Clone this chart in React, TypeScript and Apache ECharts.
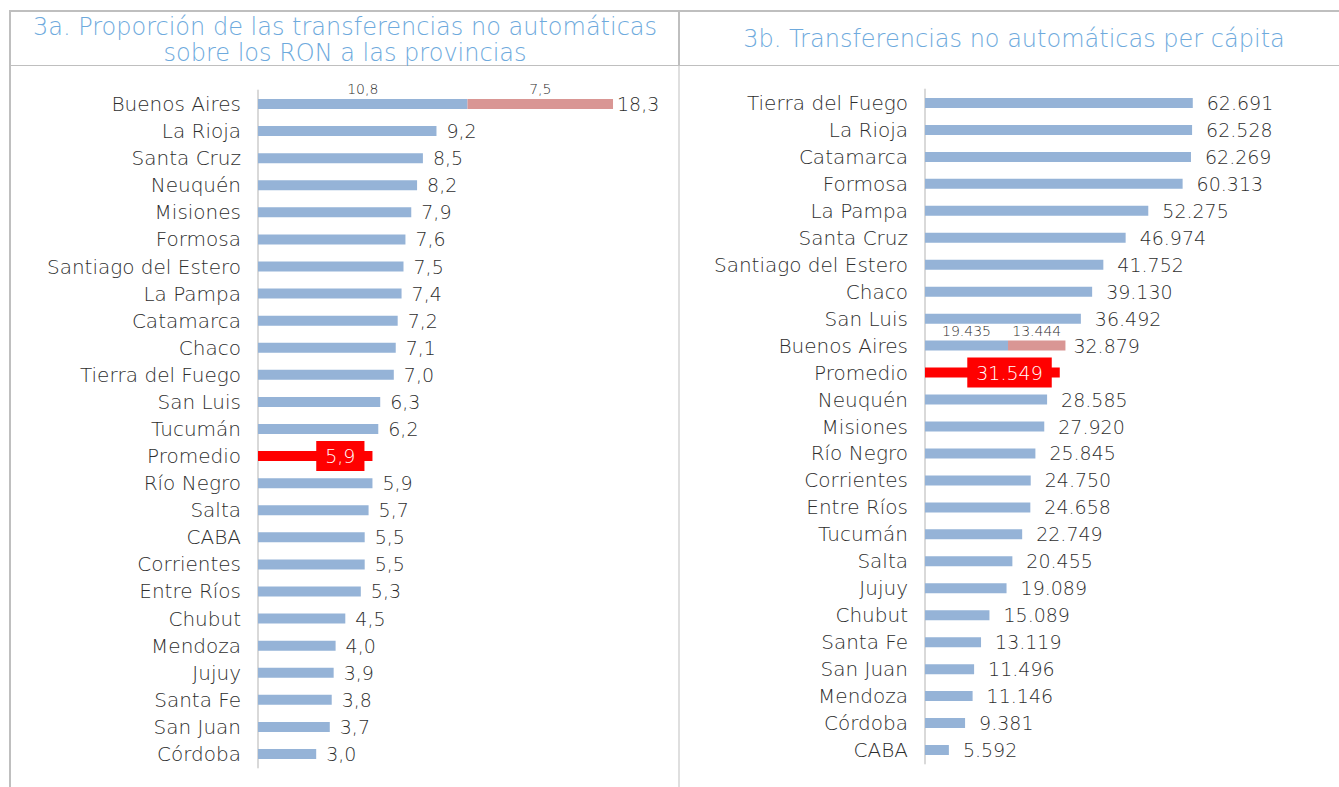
import React, { useEffect, useRef } from "react";
import * as echarts from "echarts";

const leftCategories = [
  "Buenos Aires", "La Rioja", "Santa Cruz", "Neuquén", "Misiones", "Formosa",
  "Santiago del Estero", "La Pampa", "Catamarca", "Chaco", "Tierra del Fuego",
  "San Luis", "Tucumán", "Promedio", "Río Negro", "Salta", "CABA", "Corrientes",
  "Entre Ríos", "Chubut", "Mendoza", "Jujuy", "Santa Fe", "San Juan", "Córdoba",
];
const leftValues = [
  18.3, 9.2, 8.5, 8.2, 7.9, 7.6, 7.5, 7.4, 7.2, 7.1, 7.0, 6.3, 6.2, 5.9, 5.9,
  5.7, 5.5, 5.5, 5.3, 4.5, 4.0, 3.9, 3.8, 3.7, 3.0,
];
const leftBuenosAiresSplit = [10.8, 7.5];

const rightCategories = [
  "Tierra del Fuego", "La Rioja", "Catamarca", "Formosa", "La Pampa", "Santa Cruz",
  "Santiago del Estero", "Chaco", "San Luis", "Buenos Aires", "Promedio", "Neuquén",
  "Misiones", "Río Negro", "Corrientes", "Entre Ríos", "Tucumán", "Salta", "Jujuy",
  "Chubut", "Santa Fe", "San Juan", "Mendoza", "Córdoba", "CABA",
];
const rightValues = [
  62691, 62528, 62269, 60313, 52275, 46974, 41752, 39130, 36492, 32879, 31549,
  28585, 27920, 25845, 24750, 24658, 22749, 20455, 19089, 15089, 13119, 11496,
  11146, 9381, 5592,
];
const rightBuenosAiresSplit = [19435, 13444];

const leftTitle = ["3a. Proporción de las transferencias no automáticas", "sobre los RON a las provincias"];
const rightTitle = "3b. Transferencias no automáticas per cápita";

const BLUE = "#95b3d7";
const PINK = "#d99694";
const RED = "#ff0000";
const TEXT = "#2e2e2e";
const TITLE = "#6eaadd";
const BORDER = "#bfbfbf";
const FONT = "'DejaVu Sans', sans-serif";
const WEIGHT = 300;

const fmtComma = (v: number) => v.toFixed(1).replace(".", ",");
const fmtThousands = (v: number) =>
  String(Math.round(v)).replace(/\B(?=(\d{3})+(?!\d))/g, ".");

function buildBars(
  cats: string[],
  vals: number[],
  split: number[],
  fmt: (v: number) => string,
  xIdx: number,
  labelDist: number
) {
  const baIdx = cats.indexOf("Buenos Aires");
  const promIdx = cats.indexOf("Promedio");
  const smallLabel = (v: number) => ({
    show: true,
    position: "top",
    distance: 3,
    fontSize: 14,
    color: TEXT,
    fontFamily: FONT,
    fontWeight: WEIGHT,
    formatter: () => fmt(v),
  });
  const baseData = vals.map((v, i) => {
    if (i === baIdx) {
      return { value: split[0], label: smallLabel(split[0]) };
    }
    if (i === promIdx) {
      return {
        value: v,
        itemStyle: { color: RED },
        label: {
          show: true,
          position: "insideRight",
          distance: 8,
          backgroundColor: RED,
          color: "#ffffff",
          fontSize: 19,
          fontWeight: WEIGHT,
          padding: [6, 9, 5, 9],
          fontFamily: FONT,
          formatter: () => fmt(v),
        },
      };
    }
    return v;
  });
  const extraData = vals.map((_, i) =>
    i === baIdx ? { value: split[1], label: smallLabel(split[1]) } : "-"
  );
  return [
    {
      type: "bar",
      xAxisIndex: xIdx,
      yAxisIndex: xIdx,
      stack: "s" + xIdx,
      barWidth: 10,
      itemStyle: { color: BLUE },
      data: baseData,
      label: {
        show: true,
        position: "right",
        distance: labelDist,
        fontSize: 19,
        color: TEXT,
        fontFamily: FONT,
        fontWeight: WEIGHT,
        formatter: (p: any) => fmt(p.value),
      },
    },
    {
      type: "bar",
      xAxisIndex: xIdx,
      yAxisIndex: xIdx,
      stack: "s" + xIdx,
      barWidth: 10,
      itemStyle: { color: PINK },
      data: extraData,
    },
    {
      type: "scatter",
      xAxisIndex: xIdx,
      yAxisIndex: xIdx,
      symbolSize: 0,
      itemStyle: { color: TEXT, opacity: 1 },
      data: [[vals[baIdx], cats[baIdx]]],
      label: {
        show: true,
        position: "right",
        distance: labelDist - 6,
        fontSize: 19,
        color: TEXT,
        fontFamily: FONT,
        fontWeight: WEIGHT,
        formatter: () => fmt(vals[baIdx]),
      },
    },
  ];
}

export default function App() {
  const ref = useRef<HTMLDivElement>(null);
  useEffect(() => {
    if (!ref.current) return;
    const chart = echarts.init(ref.current, null, { renderer: "svg" });
    const catAxis = (cats: string[], idx: number) => ({
      type: "category",
      gridIndex: idx,
      data: cats,
      inverse: true,
      axisTick: { show: false },
      axisLine: { show: true, lineStyle: { color: "#d9d9d9", width: 2 } },
      axisLabel: {
        interval: 0,
        fontSize: 20,
        color: TEXT,
        margin: 17,
        fontFamily: FONT,
        fontWeight: WEIGHT,
      },
    });
    const valAxis = (idx: number, max: number) => ({
      type: "value",
      gridIndex: idx,
      min: 0,
      max,
      show: false,
      splitLine: { show: false },
    });
    const line = (x1: number, y1: number, x2: number, y2: number, w: number) => ({
      type: "line",
      shape: { x1, y1, x2, y2 },
      style: { stroke: BORDER, lineWidth: w },
      silent: true,
    });
    chart.setOption({
      animation: false,
      backgroundColor: "#ffffff",
      grid: [
        { left: 258, top: 90.5, width: 388, height: 677 },
        { left: 925, top: 89.5, width: 299, height: 674 },
      ],
      xAxis: [valAxis(0, 20), valAxis(1, 70000)],
      yAxis: [catAxis(leftCategories, 0), catAxis(rightCategories, 1)],
      series: [
        ...buildBars(leftCategories, leftValues, leftBuenosAiresSplit, fmtComma, 0, 10),
        ...buildBars(rightCategories, rightValues, rightBuenosAiresSplit, fmtThousands, 1, 14),
      ],
      graphic: [
        line(9, 11, 1339, 11, 2),
        line(10, 11, 10, 787, 2),
        line(679, 11, 679, 66, 2),
        line(679, 66, 679, 787, 1),
        line(10, 65.5, 1339, 65.5, 1),
        {
          type: "text",
          x: 345,
          y: 40,
          style: {
            text: leftTitle.join("\n"),
            align: "center",
            verticalAlign: "middle",
            fill: TITLE,
            fontSize: 24,
            fontWeight: WEIGHT,
            lineHeight: 26,
            fontFamily: FONT,
          },
        },
        {
          type: "text",
          x: 1014,
          y: 39,
          style: {
            text: rightTitle,
            align: "center",
            verticalAlign: "middle",
            fill: TITLE,
            fontSize: 24,
            fontWeight: WEIGHT,
            fontFamily: FONT,
          },
        },
      ],
    });
    return () => chart.dispose();
  }, []);
  return (
    <div
      ref={ref}
      style={{ position: "fixed", left: 0, top: 0, width: 1339, height: 787 }}
    />
  );
}
